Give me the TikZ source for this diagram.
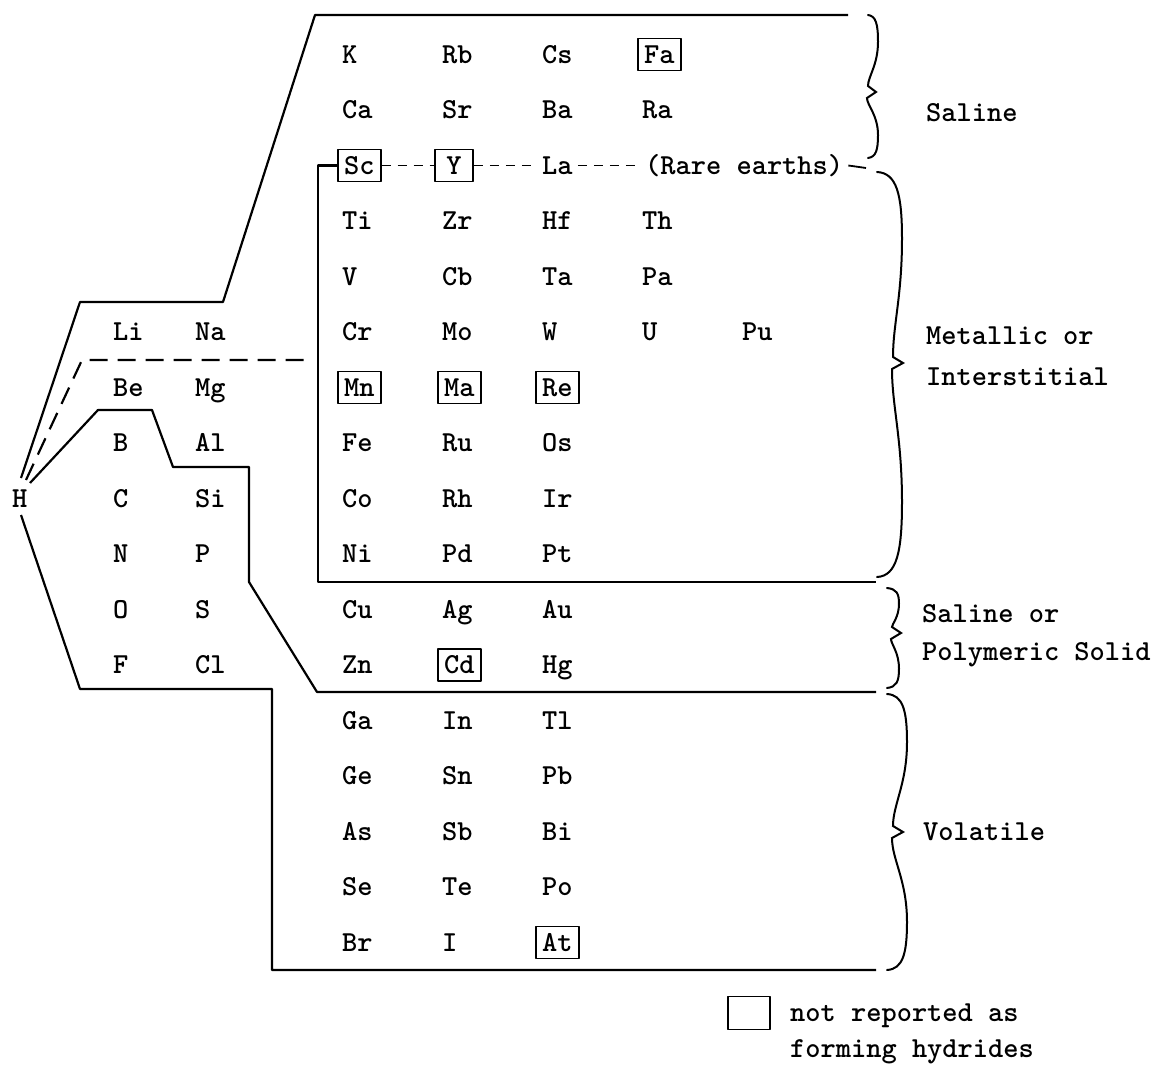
\documentclass[tikz,border=0pt]{standalone}
\usepackage{fontspec}
\newcommand{\mybrace}[7]{% x0,y1,ym,y2,xb,xm,xt
 \draw[brace] (#1,#2) .. controls ({#1+0.8*(#5-#1)},{#2+1}) and (#5,{#2+0.12*(#3-#2)}) .. (#5,{#2+0.35*(#3-#2)})
   .. controls (#5,{#2+0.65*(#3-#2)}) and (#6,{#3-0.2*(#3-#2)}) .. (#6,{#3-6})
   -- (#7,#3) -- ({#6-1},{#3+6})
   .. controls ({#6-1},{#3+0.2*(#4-#3)}) and (#5,{#4-0.65*(#4-#3)}) .. (#5,{#4-0.35*(#4-#3)})
   .. controls (#5,{#4-0.12*(#4-#3)}) and ({#1+0.8*(#5-#1)},{#4-1}) .. (#1,#4);}
\begin{document}
\begin{tikzpicture}[x=1pt,y=-1pt,
  line join=round,
  el/.style={font=\fontsize{29}{34}\selectfont\ttfamily\bfseries, anchor=west, inner xsep=5pt, inner ysep=7pt, text height=17.7pt, text depth=0pt},
  elbox/.style={el, draw, line width=1.6pt, minimum width=43pt},
  region/.style={line width=2.2pt},
  rdash/.style={line width=2.2pt, dash pattern=on 18pt off 10pt},
  tdash/.style={line width=1.8pt, dash pattern=on 9pt off 7pt},
  brace/.style={line width=2pt, line cap=round, line join=miter}]
\useasboundingbox (0,0) rectangle (1171,1067);

% ---- right block elements ----
% row 1
\node[el] (K) at (337,54.5) {K};
\node[el] (Rb) at (437,54.5) {Rb};
\node[el] (Cs) at (537,54.5) {Cs};
\node[elbox] (Fa) at (637,54.5) {Fa};
% row 2
\node[el] (Ca) at (337,110) {Ca};
\node[el] (Sr) at (437,110) {Sr};
\node[el] (Ba) at (537,110) {Ba};
\node[el] (Ra) at (637,110) {Ra};
% row 3
\node[elbox] (Sc) at (337,165.5) {Sc};
\node[elbox, anchor=center, minimum width=38pt] (Y) at (454,165.5) {Y};
\node[el] (La) at (537,165.5) {La};
\node[el] (RE) at (640,165.5) {(Rare earths)};
% row 4
\node[el] (Ti) at (337,221) {Ti};
\node[el] (Zr) at (437,221) {Zr};
\node[el] (Hf) at (537,221) {Hf};
\node[el] (Th) at (637,221) {Th};
% row 5
\node[el] (V) at (337,276.5) {V};
\node[el] (Cb) at (437,276.5) {Cb};
\node[el] (Ta) at (537,276.5) {Ta};
\node[el] (Pa) at (637,276.5) {Pa};
% row 6
\node[el] (Cr) at (337,332) {Cr};
\node[el] (Mo) at (437,332) {Mo};
\node[el] (W) at (537,332) {W};
\node[el] (U) at (637,332) {U};
\node[el] (Pu) at (737,332) {Pu};
% row 7
\node[elbox] (Mn) at (337,387.5) {Mn};
\node[elbox] (Ma) at (437,387.5) {Ma};
\node[elbox] (Re) at (535,387.5) {Re};
% row 8
\node[el] (Fe) at (337,443) {Fe};
\node[el] (Ru) at (437,443) {Ru};
\node[el] (Os) at (537,443) {Os};
% row 9
\node[el] (Co) at (337,498.5) {Co};
\node[el] (Rh) at (437,498.5) {Rh};
\node[el] (Ir) at (537,498.5) {Ir};
% row 10
\node[el] (Ni) at (337,554) {Ni};
\node[el] (Pd) at (437,554) {Pd};
\node[el] (Pt) at (537,554) {Pt};
% row 11
\node[el] (Cu) at (337,609.5) {Cu};
\node[el] (Ag) at (437,609.5) {Ag};
\node[el] (Au) at (537,609.5) {Au};
% row 12
\node[el] (Zn) at (337,665) {Zn};
\node[elbox] (Cd) at (437,665) {Cd};
\node[el] (Hg) at (537,665) {Hg};
% row 13
\node[el] (Ga) at (337,720.5) {Ga};
\node[el] (In) at (437,720.5) {In};
\node[el] (Tl) at (537,720.5) {Tl};
% row 14
\node[el] (Ge) at (337,776) {Ge};
\node[el] (Sn) at (437,776) {Sn};
\node[el] (Pb) at (537,776) {Pb};
% row 15
\node[el] (As) at (337,831.5) {As};
\node[el] (Sb) at (437,831.5) {Sb};
\node[el] (Bi) at (537,831.5) {Bi};
% row 16
\node[el] (Se) at (337,887) {Se};
\node[el] (Te) at (437,887) {Te};
\node[el] (Po) at (537,887) {Po};
% row 17
\node[el] (Br) at (337,942.5) {Br};
\node[el] (I) at (437,942.5) {I};
\node[elbox] (At) at (535,942.5) {At};

% ---- left block ----
\node[el] (H) at (7,498.5) {H};
\node[el] (Li) at (108,332) {Li};
\node[el] (Na) at (190,332) {Na};
\node[el] (Be) at (108,387.5) {Be};
\node[el] (Mg) at (190,387.5) {Mg};
\node[el] (B) at (108,443) {B};
\node[el] (Al) at (190,443) {Al};
\node[el] (C) at (108,498.5) {C};
\node[el] (Si) at (190,498.5) {Si};
\node[el] (N) at (108,554) {N};
\node[el] (P) at (190,554) {P};
\node[el] (O) at (108,609.5) {O};
\node[el] (S) at (190,609.5) {S};
\node[el] (F) at (108,665) {F};
\node[el] (Cl) at (190,665) {Cl};

% ---- dashed links of row 3 ----
\coordinate (retick) at (866,168);
\draw[tdash] (Sc.east) -- (Y.west);
\draw[tdash] (Y.east) -- (La.west);
\draw[tdash] (La.east) -- (RE.west);
\draw[line width=1.8pt] (RE.east) -- (retick);

% ---- region boundaries ----
\coordinate (hA) at (21,478);
\coordinate (hB) at (26,480);
\coordinate (hC) at (30,483);
\coordinate (hD) at (21,515);
\draw[region] (hA) -- (80,302) -- (223,302) -- (315,15) -- (848,15);
\draw[rdash] (hB) -- (82,360) -- (313,360);
\draw[region] (hC) -- (98,410) -- (152,410) -- (173,467) -- (249,467) -- (249,582) -- (317,692) -- (876,692);
\draw[region] (hD) -- (80,689) -- (272,689) -- (272,970) -- (876,970);
\draw[region] (Sc.west) -- (318,165.5) -- (318,582) -- (876,582);

% ---- braces ----
\mybrace{868}{15}{92}{158}{878}{868}{876}
\mybrace{877}{172}{363}{577}{902}{893}{903}
\mybrace{887}{588}{633}{688}{899}{892}{901}
\mybrace{887}{694}{832}{970}{907}{893}{903}

% ---- labels ----
\node[el] (lSal) at (921,113) {Saline};
\node[el] (lMet) at (921,336) {Metallic or};
\node[el] (lInt) at (921,377) {Interstitial};
\node[el] (lSo) at (917,614) {Saline or};
\node[el] (lPol) at (917,652) {Polymeric Solid};
\node[el] (lVol) at (918,832) {Volatile};

% ---- legend ----
\node[draw, line width=1.8pt, minimum width=42pt, minimum height=33pt, inner sep=0pt] (legend) at (749,1013) {};
\node[el] (leg1) at (785,1013) {not reported as};
\node[el] (leg2) at (785,1049) {forming hydrides};
\end{tikzpicture}
\end{document}
